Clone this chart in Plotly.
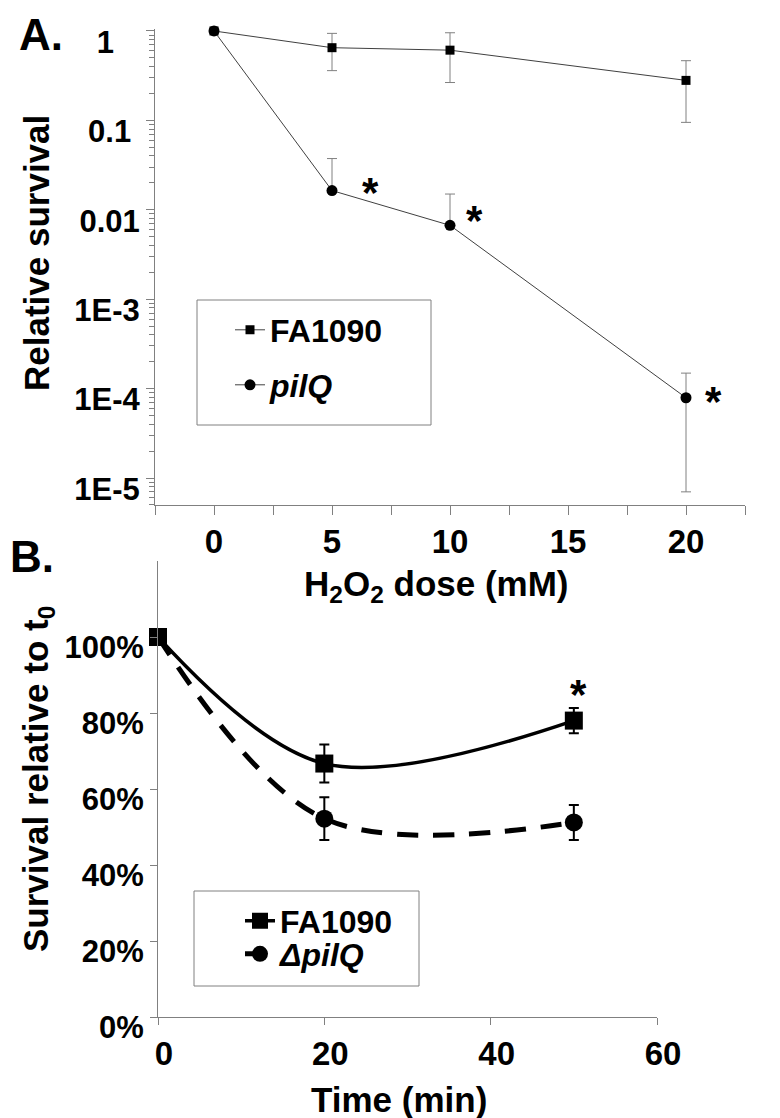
import math
import plotly.graph_objects as go

# ---------------- data ----------------
# Panel A
dose = [0, 5, 10, 20]
fa_surv = [1.0, 0.65, 0.61, 0.28]
fa_err = [0.0, 0.29, 0.345, 0.185]
pilq_surv = [1.0, 0.0164, 0.0067, 7.9e-5]
pilq_err_plus = [0.0, 0.021, 0.0083, 7.0e-5]
pilq_err_minus = [0.0, 0.0, 0.0, 7.2e-5]
a_xticks = [0, 5, 10, 15, 20]
a_minor_x = 2.5
a_yticks = [1, 0.1, 0.01, 1e-3, 1e-4, 1e-5]
a_ylabels = ["1", "0.1", "0.01", "1E-3", "1E-4", "1E-5"]
star_a_x = [6.65, 11.05, 21.15]
star_a_y = [0.0192, 0.0093, 8.7e-5]

# Panel B
time_min = [0, 20, 50]
fa_pct = [1.00, 0.667, 0.780]
fa_sd = [0.0, 0.050, 0.033]
dpilq_pct = [1.00, 0.522, 0.512]
dpilq_sd = [0.0, 0.056, 0.046]
b_xticks = [0, 20, 40, 60]
b_yticks = [0, 0.2, 0.4, 0.6, 0.8, 1.0]
b_ylabels = ["0%", "20%", "40%", "60%", "80%", "100%"]
star_b_x = [50.6]
star_b_y = [0.869]

W, H = 780, 1118
FONT = "Liberation Sans, Arial, sans-serif"
GRAY = "#808080"


def px(x):
    return x / W


def py(y):
    return 1 - y / H


# approximate Arial-bold advance widths (em) to centre the panel-A y labels
CW = {".": .278, "E": .667, "-": .333}


def centred(labels):
    ws = [sum(CW.get(c, .556) for c in s) for s in labels]
    m = max(ws)
    return [s + "\u00a0" * int(round((m - w) / 2 / .278)) for s, w in zip(labels, ws)]


def bfont(size):
    return dict(size=size, family=FONT, color="black", weight="bold")


fig = go.Figure()

# ---- Panel A traces ----
fig.add_trace(go.Scatter(
    x=dose, y=fa_surv, mode="lines+markers", name="FA1090",
    line=dict(color="#404040", width=1),
    marker=dict(symbol="square", size=9, color="black"),
    error_y=dict(type="data", array=fa_err, color=GRAY, thickness=1, width=5),
    xaxis="x", yaxis="y", legend="legend", cliponaxis=False))
fig.add_trace(go.Scatter(
    x=dose, y=pilq_surv, mode="lines+markers", name="<i>pilQ</i>",
    line=dict(color="#404040", width=1),
    marker=dict(symbol="circle", size=11, color="black"),
    error_y=dict(type="data", symmetric=False, array=pilq_err_plus,
                 arrayminus=pilq_err_minus, color=GRAY, thickness=1, width=5),
    xaxis="x", yaxis="y", legend="legend2", cliponaxis=False))

# ---- Panel B traces ----
fig.add_trace(go.Scatter(
    x=time_min, y=dpilq_pct, mode="lines+markers", name="<i>\u0394pilQ</i>",
    line=dict(color="black", width=5, dash="21px,15px", shape="spline", smoothing=1),
    marker=dict(symbol="circle", size=18, color="black"),
    error_y=dict(type="data", array=dpilq_sd, color="black", thickness=2, width=5),
    xaxis="x2", yaxis="y2", legend="legend4", cliponaxis=False))
fig.add_trace(go.Scatter(
    x=time_min, y=fa_pct, mode="lines+markers", name="FA1090",
    line=dict(color="black", width=3.5, shape="spline", smoothing=1),
    marker=dict(symbol="square", size=18, color="black"),
    error_y=dict(type="data", array=fa_sd, color="black", thickness=2, width=5),
    xaxis="x2", yaxis="y2", legend="legend3", cliponaxis=False))

axis_common = dict(showline=True, linecolor=GRAY, linewidth=1, showgrid=False,
                   zeroline=False, ticks="outside", tickcolor=GRAY, tickwidth=1,
                   color="black", ticklabeloverflow="allow", automargin=False)

layout = dict(
    width=W, height=H, margin=dict(l=0, r=0, t=0, b=0, autoexpand=False),
    paper_bgcolor="white", plot_bgcolor="white",
    font=dict(family=FONT, color="black"),
    xaxis=dict(axis_common, domain=[px(147), px(737)], range=[-2.5, 22.5],
               tickvals=a_xticks, ticklen=9, ticklabelstandoff=-2,
               minor=dict(dtick=a_minor_x, tick0=0, ticks="outside", ticklen=9,
                          tickcolor=GRAY, showgrid=False),
               tickfont=bfont(33), anchor="y"),
    yaxis=dict(axis_common, domain=[py(497), py(21)], type="log",
               range=[-5.302, 0.022], tickvals=a_yticks, ticktext=centred(a_ylabels),
               ticklen=8, ticklabelshift=11,
               minor=dict(dtick="D1", ticks="outside", ticklen=5, tickcolor=GRAY,
                          showgrid=False),
               tickfont=bfont(31), anchor="x"),
    xaxis2=dict(axis_common, domain=[px(150), px(649)], range=[0, 60],
                tickvals=b_xticks, ticklen=7, ticklabelshift=6,
                tickfont=bfont(33), anchor="y2"),
    yaxis2=dict(axis_common, domain=[py(1009), py(553)], range=[0, 1.2],
                tickvals=b_yticks, ticktext=b_ylabels, ticklen=7, ticklabelshift=10,
                tickfont=bfont(31), anchor="x2"),
    showlegend=True,
)

leg = dict(bgcolor="rgba(0,0,0,0)", borderwidth=0, xanchor="left", yanchor="middle",
           font=bfont(32))
layout["legend"] = dict(leg, x=px(222), y=py(322))
layout["legend2"] = dict(leg, x=px(222), y=py(377))
layout["legend3"] = dict(leg, x=px(232), y=py(913))
layout["legend4"] = dict(leg, x=px(232), y=py(946))

fig.update_layout(**layout)

# legend frames
fig.add_shape(type="rect", xref="paper", yref="paper", x0=px(189), x1=px(423),
              y0=py(417), y1=py(292), line=dict(color=GRAY, width=1), fillcolor="rgba(0,0,0,0)")
fig.add_shape(type="rect", xref="paper", yref="paper", x0=px(186), x1=px(411),
              y0=py(978), y1=py(883), line=dict(color=GRAY, width=1), fillcolor="rgba(0,0,0,0)")

ann = []
# significance stars
for sx, sy in zip(star_a_x, star_a_y):
    ann.append(dict(x=sx, y=math.log10(sy), xref="x", yref="y", text="<b>*</b>",
                    showarrow=False, font=dict(size=42, family=FONT), yshift=-8))
for sx, sy in zip(star_b_x, star_b_y):
    ann.append(dict(x=sx, y=sy, xref="x2", yref="y2", text="<b>*</b>",
                    showarrow=False, font=dict(size=42, family=FONT), yshift=-8))
# panel labels
ann.append(dict(x=px(33), y=py(27), xref="paper", yref="paper", text="<b>A.</b>",
                showarrow=False, xanchor="center", yanchor="middle",
                font=dict(size=44, family=FONT)))
ann.append(dict(x=px(24), y=py(548), xref="paper", yref="paper", text="<b>B.</b>",
                showarrow=False, xanchor="center", yanchor="middle",
                font=dict(size=44, family=FONT)))
# axis titles
ann.append(dict(x=px(28), y=py(245), xref="paper", yref="paper", text="<b>Relative survival</b>",
                showarrow=False, textangle=-90, xanchor="center", yanchor="middle",
                font=dict(size=35, family=FONT)))
ann.append(dict(x=px(428), y=py(578), xref="paper", yref="paper",
                text="<b>H<sub>2</sub>O<sub>2</sub> dose (mM)</b>",
                showarrow=False, xanchor="center", yanchor="middle",
                font=dict(size=35, family=FONT)))
ann.append(dict(x=px(30), y=py(771), xref="paper", yref="paper",
                text="<b>Survival relative to t<sub>0</sub></b>",
                showarrow=False, textangle=-90, xanchor="center", yanchor="middle",
                font=dict(size=35, family=FONT)))
ann.append(dict(x=px(391), y=py(1091), xref="paper", yref="paper", text="<b>Time (min)</b>",
                showarrow=False, xanchor="center", yanchor="middle",
                font=dict(size=35, family=FONT)))
fig.update_layout(annotations=ann)

fig.write_html("out.html")
